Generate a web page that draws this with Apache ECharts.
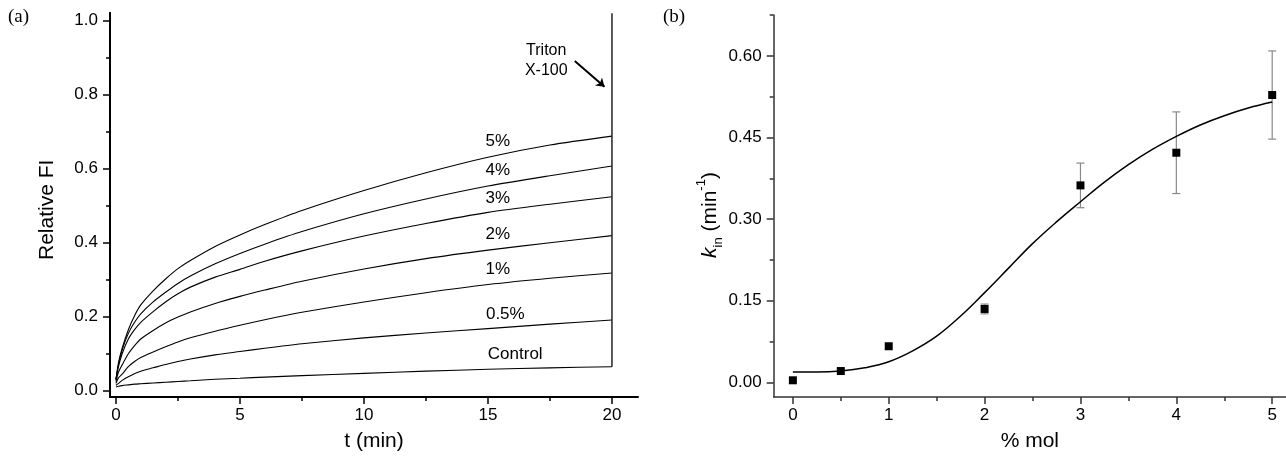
<!DOCTYPE html>
<html><head><meta charset="utf-8">
<script src="https://cdn.jsdelivr.net/npm/echarts@6/dist/echarts.min.js"></script>
<style>html,body{margin:0;padding:0;background:#fff}#c{width:1286px;height:457px}</style>
</head><body><div id="c"></div>
<script>
// ---------- Panel (a): release kinetics ----------
const timeMin   = [0, 0.1, 0.25, 0.5, 0.75, 1, 1.5, 2, 2.5, 3, 4, 5, 6, 7.5, 10, 12.5, 15, 17.5, 20];
const fi5pct    = [0.03, 0.075, 0.115, 0.165, 0.203, 0.232, 0.27, 0.302, 0.33, 0.352, 0.39, 0.421, 0.449, 0.487, 0.541, 0.589, 0.631, 0.664, 0.688];
const fi4pct    = [0.03, 0.07, 0.11, 0.155, 0.185, 0.208, 0.24, 0.266, 0.29, 0.31, 0.343, 0.371, 0.396, 0.43, 0.478, 0.518, 0.553, 0.581, 0.607];
const fi3pct    = [0.03, 0.065, 0.10, 0.14, 0.165, 0.185, 0.214, 0.24, 0.262, 0.28, 0.307, 0.328, 0.35, 0.378, 0.418, 0.452, 0.482, 0.504, 0.524];
const fi2pct    = [0.025, 0.05, 0.07, 0.10, 0.122, 0.14, 0.163, 0.183, 0.199, 0.213, 0.236, 0.255, 0.272, 0.296, 0.329, 0.357, 0.38, 0.40, 0.419];
const fi1pct    = [0.02, 0.035, 0.045, 0.065, 0.079, 0.09, 0.105, 0.119, 0.132, 0.143, 0.161, 0.177, 0.192, 0.212, 0.24, 0.265, 0.287, 0.304, 0.318];
const fi05pct   = [0.015, 0.02, 0.028, 0.038, 0.046, 0.053, 0.062, 0.071, 0.079, 0.086, 0.097, 0.106, 0.115, 0.127, 0.143, 0.156, 0.168, 0.18, 0.191];
const fiControl = [0.01, 0.012, 0.014, 0.016, 0.018, 0.019, 0.021, 0.023, 0.025, 0.027, 0.031, 0.034, 0.037, 0.041, 0.047, 0.053, 0.058, 0.062, 0.065];
const curveNames = ['5%', '4%', '3%', '2%', '1%', '0.5%', 'Control'];
const tritonT  = [20, 20];
const tritonFI = [0.065, 1.02];

const tTicks  = [0, 5, 10, 15, 20];
const tMinor  = [2.5, 7.5, 12.5, 17.5];
const fiTicks = [0, 0.2, 0.4, 0.6, 0.8, 1.0];
const fiMinor = [0.1, 0.3, 0.5, 0.7, 0.9];

// ---------- Panel (b): k_in vs % mol ----------
const molPct = [0, 0.5, 1, 2, 3, 4, 5];
const kin    = [0.004, 0.021, 0.0665, 0.135, 0.362, 0.422, 0.528];
const kinErr = [0, 0, 0, 0.009, 0.041, 0.075, 0.081];
const fitMol = [0, 0.25, 0.5, 0.75, 1, 1.25, 1.5, 1.75, 2, 2.25, 2.5, 2.75, 3, 3.25, 3.5, 3.75, 4, 4.25, 4.5, 4.75, 5];
const fitK   = [0.019, 0.019, 0.021, 0.027, 0.038, 0.058, 0.085, 0.122, 0.165, 0.21, 0.255, 0.295, 0.332, 0.368, 0.400, 0.428, 0.452, 0.473, 0.490, 0.504, 0.515];

const molTicks = [0, 1, 2, 3, 4, 5];
const molMinor = [0.5, 1.5, 2.5, 3.5, 4.5];
const kTicks   = [0, 0.15, 0.30, 0.45, 0.60];
const kMinor   = [0.075, 0.225, 0.375, 0.525, 0.675];

const FONT = 'Liberation Sans, Arial, sans-serif';
const chart = echarts.init(document.getElementById('c'));

function mainAxis(grid, min, max, ticks, fmt, color, lw, margin, extra) {
  return Object.assign({
    gridIndex: grid, type: 'value', min: min, max: max,
    axisLine: { show: true, onZero: false, lineStyle: { color: color, width: lw } },
    axisTick: { show: true, inside: false, length: 7, customValues: ticks, lineStyle: { color: color, width: 1.5 } },
    axisLabel: { show: true, customValues: ticks, formatter: fmt, margin: margin, color: '#000', fontSize: 17, fontFamily: FONT },
    splitLine: { show: false }
  }, extra);
}
function minorAxis(grid, min, max, ticks, pos, color) {
  return {
    gridIndex: grid, type: 'value', min: min, max: max, position: pos,
    axisLine: { show: false, onZero: false },
    axisTick: { show: true, inside: false, length: 4, customValues: ticks, lineStyle: { color: color, width: 1.5 } },
    axisLabel: { show: false }, splitLine: { show: false }
  };
}

const fiSeriesData = [fi5pct, fi4pct, fi3pct, fi2pct, fi1pct, fi05pct, fiControl];
const labelAnchors = [[15.4, 0.675], [15.4, 0.595], [15.4, 0.519], [15.4, 0.424], [15.4, 0.328], [15.7, 0.206], [16.1, 0.098]];

const series = fiSeriesData.map((arr, k) => ({
  type: 'line', name: curveNames[k], xAxisIndex: 0, yAxisIndex: 0,
  data: timeMin.map((t, i) => [t, arr[i]]),
  showSymbol: false, smooth: 0.25, lineStyle: { color: '#000', width: 1.1 },
  markPoint: {
    silent: true, symbol: 'circle', symbolSize: 0,
    label: { show: true, formatter: curveNames[k], color: '#000', fontSize: 17, fontFamily: FONT },
    data: [{ coord: labelAnchors[k] }]
  }
}));

series.push({
  type: 'line', name: 'Triton', xAxisIndex: 0, yAxisIndex: 0,
  data: tritonT.map((t, i) => [t, tritonFI[i]]),
  showSymbol: false, lineStyle: { color: '#222', width: 1.5 },
  markPoint: {
    silent: true, symbol: 'circle', symbolSize: 0,
    label: { show: true, formatter: 'Triton\nX-100', color: '#000', fontSize: 16, lineHeight: 20, fontFamily: FONT },
    data: [{ coord: [17.35, 0.893] }]
  },
  markLine: {
    silent: true, symbol: ['none', 'arrow'], symbolSize: 8,
    lineStyle: { color: '#000', width: 2, type: 'solid' }, label: { show: false },
    data: [[{ coord: [18.5, 0.891] }, { coord: [19.7, 0.821] }]]
  }
});

series.push({
  type: 'custom', name: 'err', xAxisIndex: 2, yAxisIndex: 2,
  data: molPct.map((x, i) => [x, kin[i], kinErr[i]]),
  encode: { x: 0, y: 1 },
  renderItem: function (params, api) {
    const x = api.value(0), y = api.value(1), e = api.value(2);
    if (!e) return null;
    const top = api.coord([x, y + e]), bot = api.coord([x, y - e]);
    const st = { stroke: '#888', lineWidth: 1.2 };
    return { type: 'group', children: [
      { type: 'line', shape: { x1: top[0], y1: top[1], x2: bot[0], y2: bot[1] }, style: st },
      { type: 'line', shape: { x1: top[0] - 4, y1: top[1], x2: top[0] + 4, y2: top[1] }, style: st },
      { type: 'line', shape: { x1: bot[0] - 4, y1: bot[1], x2: bot[0] + 4, y2: bot[1] }, style: st }
    ]};
  },
  z: 2
});
series.push({
  type: 'line', name: 'fit', xAxisIndex: 2, yAxisIndex: 2,
  data: fitMol.map((x, i) => [x, fitK[i]]),
  showSymbol: false, smooth: 0.4, lineStyle: { color: '#000', width: 1.5 }, z: 3
});
series.push({
  type: 'scatter', name: 'kin', xAxisIndex: 2, yAxisIndex: 2,
  data: molPct.map((x, i) => [x, kin[i]]),
  symbol: 'rect', symbolSize: 8, itemStyle: { color: '#000', opacity: 1 }, z: 4
});

chart.setOption({
  animation: false,
  backgroundColor: '#fff',
  textStyle: { fontFamily: FONT },
  grid: [
    { left: 110, top: 12.7, width: 528, height: 390.3 },
    { left: 773.7, top: 15, right: 0, height: 385.7 }
  ],
  xAxis: [
    mainAxis(0, -0.24, 21.05, tTicks, v => String(v), '#000', 2, 10,
      { position: 'bottom', name: 't (min)', nameLocation: 'middle', nameGap: 34,
        nameTextStyle: { fontSize: 21, color: '#000', fontFamily: FONT } }),
    minorAxis(0, -0.24, 21.05, tMinor, 'bottom', '#000'),
    mainAxis(1, -0.2, 5.144, molTicks, v => String(v), '#333', 1.5, 10,
      { position: 'bottom', name: '% mol', nameLocation: 'middle', nameGap: 34,
        nameTextStyle: { fontSize: 21, color: '#000', fontFamily: FONT } }),
    minorAxis(1, -0.2, 5.144, molMinor, 'bottom', '#333')
  ],
  yAxis: [
    mainAxis(0, -0.0168, 1.0213, fiTicks, v => v.toFixed(1), '#000', 2, 12,
      { position: 'left', name: 'Relative FI', nameLocation: 'middle', nameGap: 52,
        nameTextStyle: { fontSize: 21, color: '#000', fontFamily: FONT, padding: [0, 10, 0, 0] } }),
    minorAxis(0, -0.0168, 1.0213, fiMinor, 'left', '#000'),
    mainAxis(1, -0.0267, 0.675, kTicks, v => v.toFixed(2), '#333', 1.5, 12,
      { position: 'left', name: '{i|k}{sub|in} (min{sup|-1})', nameLocation: 'middle', nameGap: 48,
        nameTextStyle: { fontSize: 21, color: '#000', fontFamily: FONT, lineHeight: 30, padding: [0, 18, 0, 0],
          rich: {
            i: { fontStyle: 'italic', fontSize: 21, fontFamily: FONT, color: '#000' },
            sub: { fontSize: 13, verticalAlign: 'bottom', lineHeight: 14, fontFamily: FONT, color: '#000' },
            sup: { fontSize: 13, verticalAlign: 'top', lineHeight: 14, fontFamily: FONT, color: '#000' }
          } } }),
    minorAxis(1, -0.0267, 0.675, kMinor, 'left', '#333')
  ],
  graphic: [
    { type: 'text', left: 8, top: 8, style: { text: '(a)', fontSize: 19, fontFamily: 'Liberation Serif, Times New Roman, serif', fill: '#000' } },
    { type: 'text', left: 663, top: 8, style: { text: '(b)', fontSize: 19, fontFamily: 'Liberation Serif, Times New Roman, serif', fill: '#000' } }
  ],
  series: series
});
</script>
</body></html>
